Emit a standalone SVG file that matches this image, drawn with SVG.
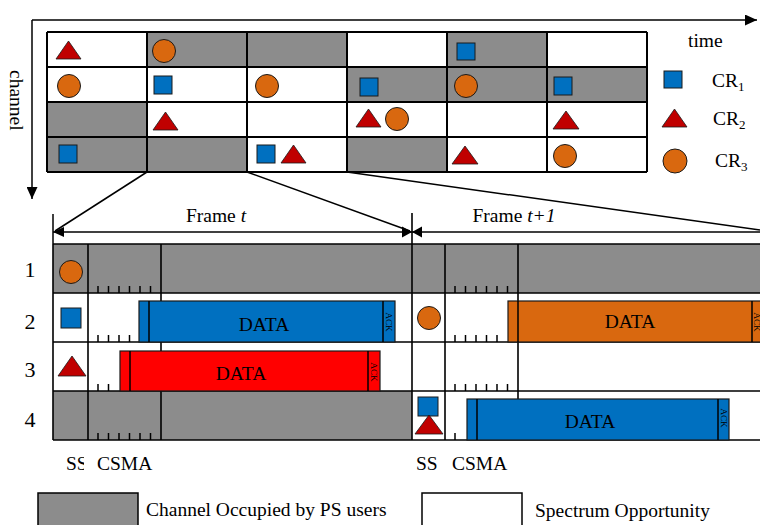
<svg xmlns="http://www.w3.org/2000/svg" width="760" height="525" viewBox="0 0 760 525">
<defs>
<style>
.g{fill:#8c8c8c}
.grid{fill:none;stroke:#000;stroke-width:2}
.lgrid{fill:none;stroke:#000;stroke-width:1.6}
.ln{fill:none;stroke:#000;stroke-width:1.5}
.tick{fill:none;stroke:#000;stroke-width:1.5}
.sq{fill:#0070c0;stroke:#1a1a1a;stroke-width:1}
.tri{fill:#c00000;stroke:#1a1a1a;stroke-width:0.8}
.cir{fill:#d9680f;stroke:#1a1a1a;stroke-width:1}
.blue{fill:#0070c0;stroke:#1a1a1a;stroke-width:1.2}
.red{fill:#ff0000;stroke:#1a1a1a;stroke-width:1.2}
.org{fill:#d9680f;stroke:#1a1a1a;stroke-width:1.2}
.t{font-family:"Liberation Serif","Times New Roman",serif;font-size:19.5px;fill:#000}
.num{font-family:"Liberation Serif","Times New Roman",serif;font-size:22px;fill:#000;text-anchor:middle}
.data{font-family:"Liberation Serif","Times New Roman",serif;font-size:19.5px;fill:#000;text-anchor:middle}
.ack{font-family:"Liberation Serif","Times New Roman",serif;font-size:9px;fill:#000;text-anchor:middle;dominant-baseline:central}
.ah{fill:#000}
</style>
<marker id="arr" viewBox="0 0 12 11" refX="12" refY="5.5" markerWidth="12" markerHeight="11" markerUnits="userSpaceOnUse" orient="auto"><path d="M0,0 L12,5.5 L0,11 z" fill="#000"/></marker>
<clipPath id="ssclip"><rect x="0" y="440" width="84" height="40"/></clipPath>
</defs>

<g id="axes">
<line class="ln" x1="32" y1="20" x2="757" y2="20" marker-end="url(#arr)"/>
<line class="ln" x1="32" y1="20" x2="32" y2="199" stroke="#333" marker-end="url(#arr)"/>
<text class="t" transform="translate(10,70) rotate(90)">channel</text>
<text class="t" x="688" y="47">time</text>
</g>

<g id="top-grid">
<rect class="g" x="147" y="32" width="100" height="35"/>
<rect class="g" x="247" y="32" width="100" height="35"/>
<rect class="g" x="447" y="32" width="100" height="35"/>
<rect class="g" x="347" y="67" width="100" height="35"/>
<rect class="g" x="447" y="67" width="100" height="35"/>
<rect class="g" x="547" y="67" width="100" height="35"/>
<rect class="g" x="47" y="102" width="100" height="35"/>
<rect class="g" x="47" y="137" width="100" height="35"/>
<rect class="g" x="147" y="137" width="100" height="35"/>
<rect class="g" x="347" y="137" width="100" height="35"/>
<path class="grid" d="M47,32H647M47,67H647M47,102H647M47,137H647M47,172H647M47,32V172M147,32V172M247,32V172M347,32V172M447,32V172M547,32V172M647,32V172"/>
<polygon class="tri" points="68.5,41 56,59 81,59"/>
<circle class="cir" cx="164" cy="51" r="11.5"/>
<rect class="sq" x="457" y="43" width="18" height="17"/>
<circle class="cir" cx="69" cy="86" r="11.5"/>
<rect class="sq" x="154" y="76" width="18" height="18"/>
<circle class="cir" cx="267" cy="86" r="11.5"/>
<rect class="sq" x="360" y="78" width="18" height="18"/>
<circle class="cir" cx="466" cy="86" r="11.5"/>
<rect class="sq" x="554" y="77" width="18" height="18"/>
<polygon class="tri" points="165.5,112 153,130 178,130"/>
<polygon class="tri" points="368.5,109 356,127 381,127"/>
<circle class="cir" cx="397" cy="119" r="11.5"/>
<polygon class="tri" points="566,111 553,129 579,129"/>
<rect class="sq" x="59" y="145" width="18" height="18"/>
<rect class="sq" x="257" y="145" width="18" height="18"/>
<polygon class="tri" points="293.5,145 281,163 306,163"/>
<polygon class="tri" points="465,146 452,164 478,164"/>
<circle class="cir" cx="565" cy="156" r="11.5"/>
</g>

<g id="legend-cr">
<rect class="sq" x="664" y="71" width="18" height="17"/>
<text class="t" x="712" y="87">CR<tspan font-size="13" dy="4">1</tspan></text>
<polygon class="tri" points="674.5,109 662,127 687,127"/>
<text class="t" x="713" y="125">CR<tspan font-size="13" dy="4">2</tspan></text>
<circle class="cir" cx="675" cy="161" r="12"/>
<text class="t" x="715" y="167">CR<tspan font-size="13" dy="4">3</tspan></text>
</g>

<g id="connectors">
<line class="ln" x1="147" y1="172" x2="55" y2="231"/>
<line class="ln" x1="247" y1="172" x2="410" y2="231"/>
<line class="ln" x1="347" y1="172" x2="760" y2="230"/>
<line class="ln" x1="53" y1="232" x2="760" y2="232"/>
<line class="ln" x1="53" y1="214" x2="53" y2="244"/>
<polygon class="ah" points="53,232 64,227 64,237"/>
<polygon class="ah" points="412,232 402,226.5 402,237.5"/>
<polygon class="ah" points="412,232 422,226.5 422,237.5"/>
</g>

<g id="frame-labels">
<text class="t" x="216" y="222" text-anchor="middle">Frame <tspan font-style="italic">t</tspan></text>
<text class="t" x="514" y="222" text-anchor="middle">Frame <tspan font-style="italic">t+1</tspan></text>
</g>

<g id="lower-grid">
<rect class="g" x="53" y="244" width="707" height="49"/>
<rect class="g" x="53" y="391" width="359" height="49"/>
<path class="lgrid" d="M53,244H760M53,293H760M53,342H760M53,391H760M53,440H760M53,244V440M88,244V440M161,244V440M445,244V440M518,244V440M412,213V440"/>
<path class="tick" d="M98,286V293M108.5,286V293M119,286V293M129.5,286V293M140,286V293M150.5,286V293
M98,335V342M108.5,335V342M119,335V342M129.5,335V342
M98,384V391M108.5,384V391
M98,433V440M108.5,433V440M119,433V440M129.5,433V440M140,433V440M150.5,433V440
M455,286V293M465.5,286V293M476,286V293M486.5,286V293M497,286V293M507.5,286V293
M455,335V342M465.5,335V342M476,335V342M486.5,335V342M497,335V342
M455,384V391M465.5,384V391M476,384V391M486.5,384V391M497,384V391M507.5,384V391
M455,433V440"/>
</g>

<g id="row-labels">
<text class="num" x="30" y="277">1</text>
<text class="num" x="30" y="329">2</text>
<text class="num" x="30" y="377">3</text>
<text class="num" x="30" y="427">4</text>
</g>

<g id="ss-shapes">
<circle class="cir" cx="71" cy="272" r="11.5"/>
<rect class="sq" x="61" y="308" width="20" height="20"/>
<polygon class="tri" points="72,356 58,376 86,376"/>
<circle class="cir" cx="429" cy="318" r="11.5"/>
<rect class="sq" x="418" y="397" width="20" height="19"/>
<polygon class="tri" points="429,415 415,434 443,434"/>
</g>

<g id="data-blue-t">
<rect class="blue" x="139" y="301" width="256" height="41"/>
<line class="ln" x1="149" y1="301" x2="149" y2="342" stroke-width="1.2"/>
<line class="ln" x1="383" y1="301" x2="383" y2="342" stroke-width="1.2"/>
<text class="data" x="264" y="331">DATA</text>
<text class="ack" transform="translate(389,322) rotate(90)">ACK</text>
</g>

<g id="data-red-t">
<rect class="red" x="120" y="351" width="260" height="40"/>
<line class="ln" x1="130" y1="351" x2="130" y2="391" stroke-width="1.2"/>
<line class="ln" x1="368" y1="351" x2="368" y2="391" stroke-width="1.2"/>
<text class="data" x="241" y="380">DATA</text>
<text class="ack" transform="translate(374,372) rotate(90)">ACK</text>
</g>

<g id="data-orange-t1">
<rect class="org" x="508" y="301" width="262" height="41"/>
<line class="ln" x1="518" y1="301" x2="518" y2="342" stroke-width="1.2"/>
<line class="ln" x1="752" y1="301" x2="752" y2="342" stroke-width="1.2"/>
<text class="data" x="630" y="328">DATA</text>
<text class="ack" transform="translate(757,322) rotate(90)">ACK</text>
</g>

<g id="data-blue-t1">
<rect class="blue" x="467" y="399" width="262" height="41"/>
<line class="ln" x1="477" y1="399" x2="477" y2="440" stroke-width="1.2"/>
<line class="ln" x1="718" y1="399" x2="718" y2="440" stroke-width="1.2"/>
<text class="data" x="590" y="428">DATA</text>
<text class="ack" transform="translate(723.5,418) rotate(90)">ACK</text>
</g>

<g id="phase-labels">
<text class="t" x="66" y="470" clip-path="url(#ssclip)">SS</text>
<text class="t" x="97" y="470">CSMA</text>
<text class="t" x="416" y="470">SS</text>
<text class="t" x="452" y="470">CSMA</text>
</g>

<g id="legend-bottom">
<rect x="38" y="493" width="100" height="40" fill="#8c8c8c" stroke="#000" stroke-width="1.5"/>
<text class="t" x="146" y="516">Channel Occupied by PS users</text>
<rect x="422" y="493" width="100" height="40" fill="#fff" stroke="#000" stroke-width="1.5"/>
<text class="t" x="535" y="517">Spectrum Opportunity</text>
</g>
</svg>
